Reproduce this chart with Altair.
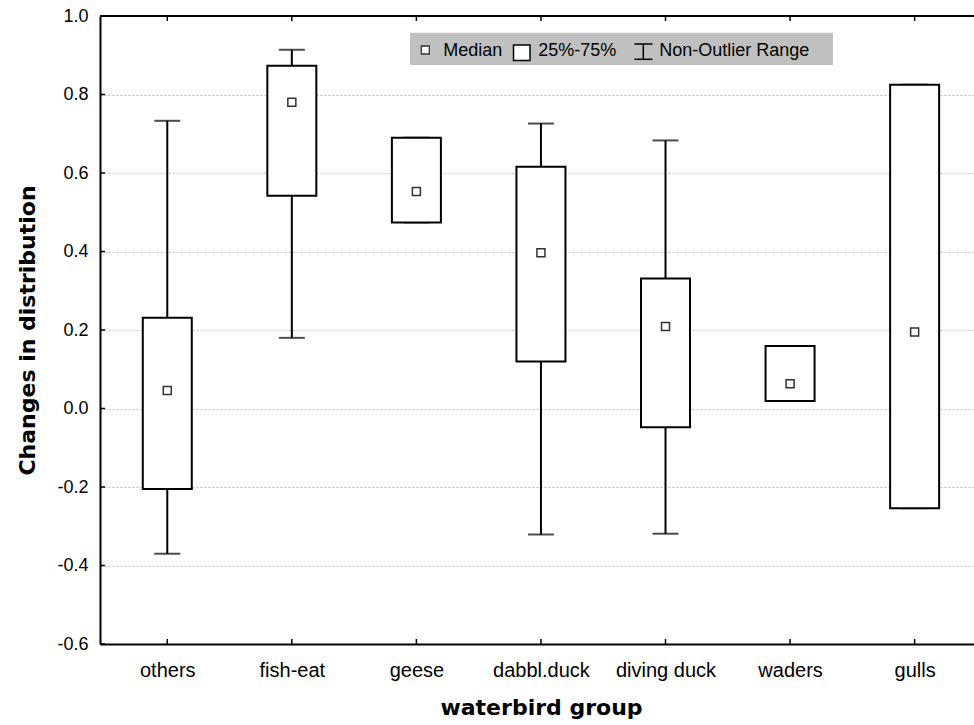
import altair as alt
import pandas as pd

groups = ["others", "fish-eat", "geese", "dabbl.duck", "diving duck", "waders", "gulls"]
whisker_low = [-0.370, 0.180, 0.474, -0.321, -0.319, 0.019, -0.254]
q1 = [-0.205, 0.542, 0.474, 0.120, -0.048, 0.019, -0.254]
median = [0.046, 0.780, 0.553, 0.397, 0.209, 0.063, 0.195]
q3 = [0.231, 0.873, 0.690, 0.616, 0.331, 0.159, 0.825]
whisker_high = [0.733, 0.914, 0.690, 0.726, 0.683, 0.159, 0.825]
y_ticks = [-0.6, -0.4, -0.2, 0.0, 0.2, 0.4, 0.6, 0.8, 1.0]

df = pd.DataFrame({
    "idx": list(range(len(groups))),
    "group": groups,
    "lo": whisker_low,
    "q1": q1,
    "med": median,
    "q3": q3,
    "hi": whisker_high,
})
ticks_df = pd.DataFrame({"v": y_ticks})
one = pd.DataFrame({"k": [0]})

W, H = 874, 628
STEP = 126
xdom = [-0.5, -0.5 + W / STEP]
label_expr = "[" + ",".join("'%s'" % g for g in groups) + "][datum.value]"

yscale = alt.Scale(domain=[-0.6, 1.0], nice=False, zero=False)
xscale = alt.Scale(domain=xdom, nice=False, zero=False)

x_axis = alt.Axis(
    values=list(range(len(groups))), labelExpr=label_expr, title="waterbird group",
    grid=False, ticks=False, domainColor="black", domainWidth=2,
    labelFont="Liberation Sans", labelFontSize=20, labelColor="black",
    labelBaseline="alphabetic", labelPadding=32, labelOverlap=False, labelFlush=False,
    titleFont="DejaVu Sans", titleFontWeight="bold", titleFontSize=22, titleColor="black",
    titleX=441, titleY=70, titleBaseline="alphabetic", titleAlign="center",
)
y_axis = alt.Axis(
    values=y_ticks, labelExpr="replace(format(datum.value, '.1f'), '\u2212', '-')",
    title="Changes in distribution",
    grid=True, gridDash=[2, 2], gridColor="#c4c4c4", gridWidth=1,
    ticks=False, domainColor="black", domainWidth=2,
    labelFont="Liberation Sans", labelFontSize=18, labelColor="black", labelPadding=12,
    labelOverlap=False, labelFlush=False,
    titleFont="DejaVu Sans", titleFontWeight="bold", titleFontSize=22, titleColor="black",
    titleX=-66, titleY=314, titleBaseline="alphabetic", titleAlign="center", titleAngle=-90,
)


def X(field):
    return alt.X(field, scale=xscale, axis=x_axis)


def Y(field):
    return alt.Y(field, scale=yscale, axis=y_axis)


base = alt.Chart(df)

whisk = base.mark_rule(color="black", strokeWidth=2).encode(
    x=X("idx:Q"), y=Y("lo:Q"), y2="hi:Q")
cap_hi = base.mark_tick(color="black", orient="horizontal", size=26, thickness=2).encode(
    x=X("idx:Q"), y=Y("hi:Q"))
cap_lo = base.mark_tick(color="black", orient="horizontal", size=26, thickness=2).encode(
    x=X("idx:Q"), y=Y("lo:Q"))
box = base.mark_bar(fill="white", stroke="black", strokeWidth=2, size=49).encode(
    x=X("idx:Q"), y=Y("q1:Q"), y2="q3:Q")
med = base.mark_point(shape="square", filled=True, fill="white", stroke="#333333",
                      strokeWidth=1.5, size=64, opacity=1).encode(
    x=X("idx:Q"), y=Y("med:Q"))

# inward ticks and top border
ytick_in = alt.Chart(ticks_df).mark_rule(color="black", strokeWidth=1.5).encode(
    y=Y("v:Q"), x=alt.value(0), x2=alt.value(5))
xtick_bottom = base.mark_rule(color="black", strokeWidth=1.5).encode(
    x=X("idx:Q"), y=alt.value(H), y2=alt.value(H - 5))
xtick_top = base.mark_rule(color="black", strokeWidth=1.5).encode(
    x=X("idx:Q"), y=alt.value(0), y2=alt.value(5))
top_border = alt.Chart(one).mark_rule(color="black", strokeWidth=2).encode(
    x=alt.value(0), x2=alt.value(W + 10), y=alt.value(0))

# legend box
leg = alt.Chart(one)
leg_bg = leg.mark_rect(color="#c0c0c0").encode(
    x=alt.value(310), x2=alt.value(733), y=alt.value(16.7), y2=alt.value(49))
leg_med = leg.mark_point(shape="square", filled=True, fill="white", stroke="#333333",
                         strokeWidth=1.3, size=64, opacity=1).encode(
    x=alt.value(325.3), y=alt.value(34))
leg_box = leg.mark_rect(fill="white", stroke="black", strokeWidth=1.5).encode(
    x=alt.value(413.5), x2=alt.value(430), y=alt.value(29), y2=alt.value(44.5))
leg_wv = leg.mark_rule(color="black", strokeWidth=1.5).encode(
    x=alt.value(543.3), y=alt.value(28), y2=alt.value(43.3))
leg_wt = leg.mark_rule(color="black", strokeWidth=1.5).encode(
    x=alt.value(534.5), x2=alt.value(552.5), y=alt.value(28))
leg_wb = leg.mark_rule(color="black", strokeWidth=1.5).encode(
    x=alt.value(534.5), x2=alt.value(552.5), y=alt.value(43.3))


def leg_text(t, xpos):
    return leg.mark_text(text=t, align="left", baseline="alphabetic", font="Liberation Sans",
                         fontSize=18, color="black").encode(x=alt.value(xpos), y=alt.value(40))


chart = alt.layer(
    whisk, cap_hi, cap_lo, box, med,
    ytick_in, xtick_bottom, xtick_top, top_border,
    leg_bg, leg_med, leg_box, leg_wv, leg_wt, leg_wb,
    leg_text("Median", 343.3), leg_text("25%-75%", 438.3), leg_text("Non-Outlier Range", 559.3),
).properties(
    width=W, height=H,
    autosize=alt.AutoSizeParams(type="none"),
    padding={"left": 100, "top": 16, "right": 0, "bottom": 81},
    background="white",
).configure_view(strokeWidth=0)

chart.save("out.html", embed_options={"renderer": "svg", "actions": False})
